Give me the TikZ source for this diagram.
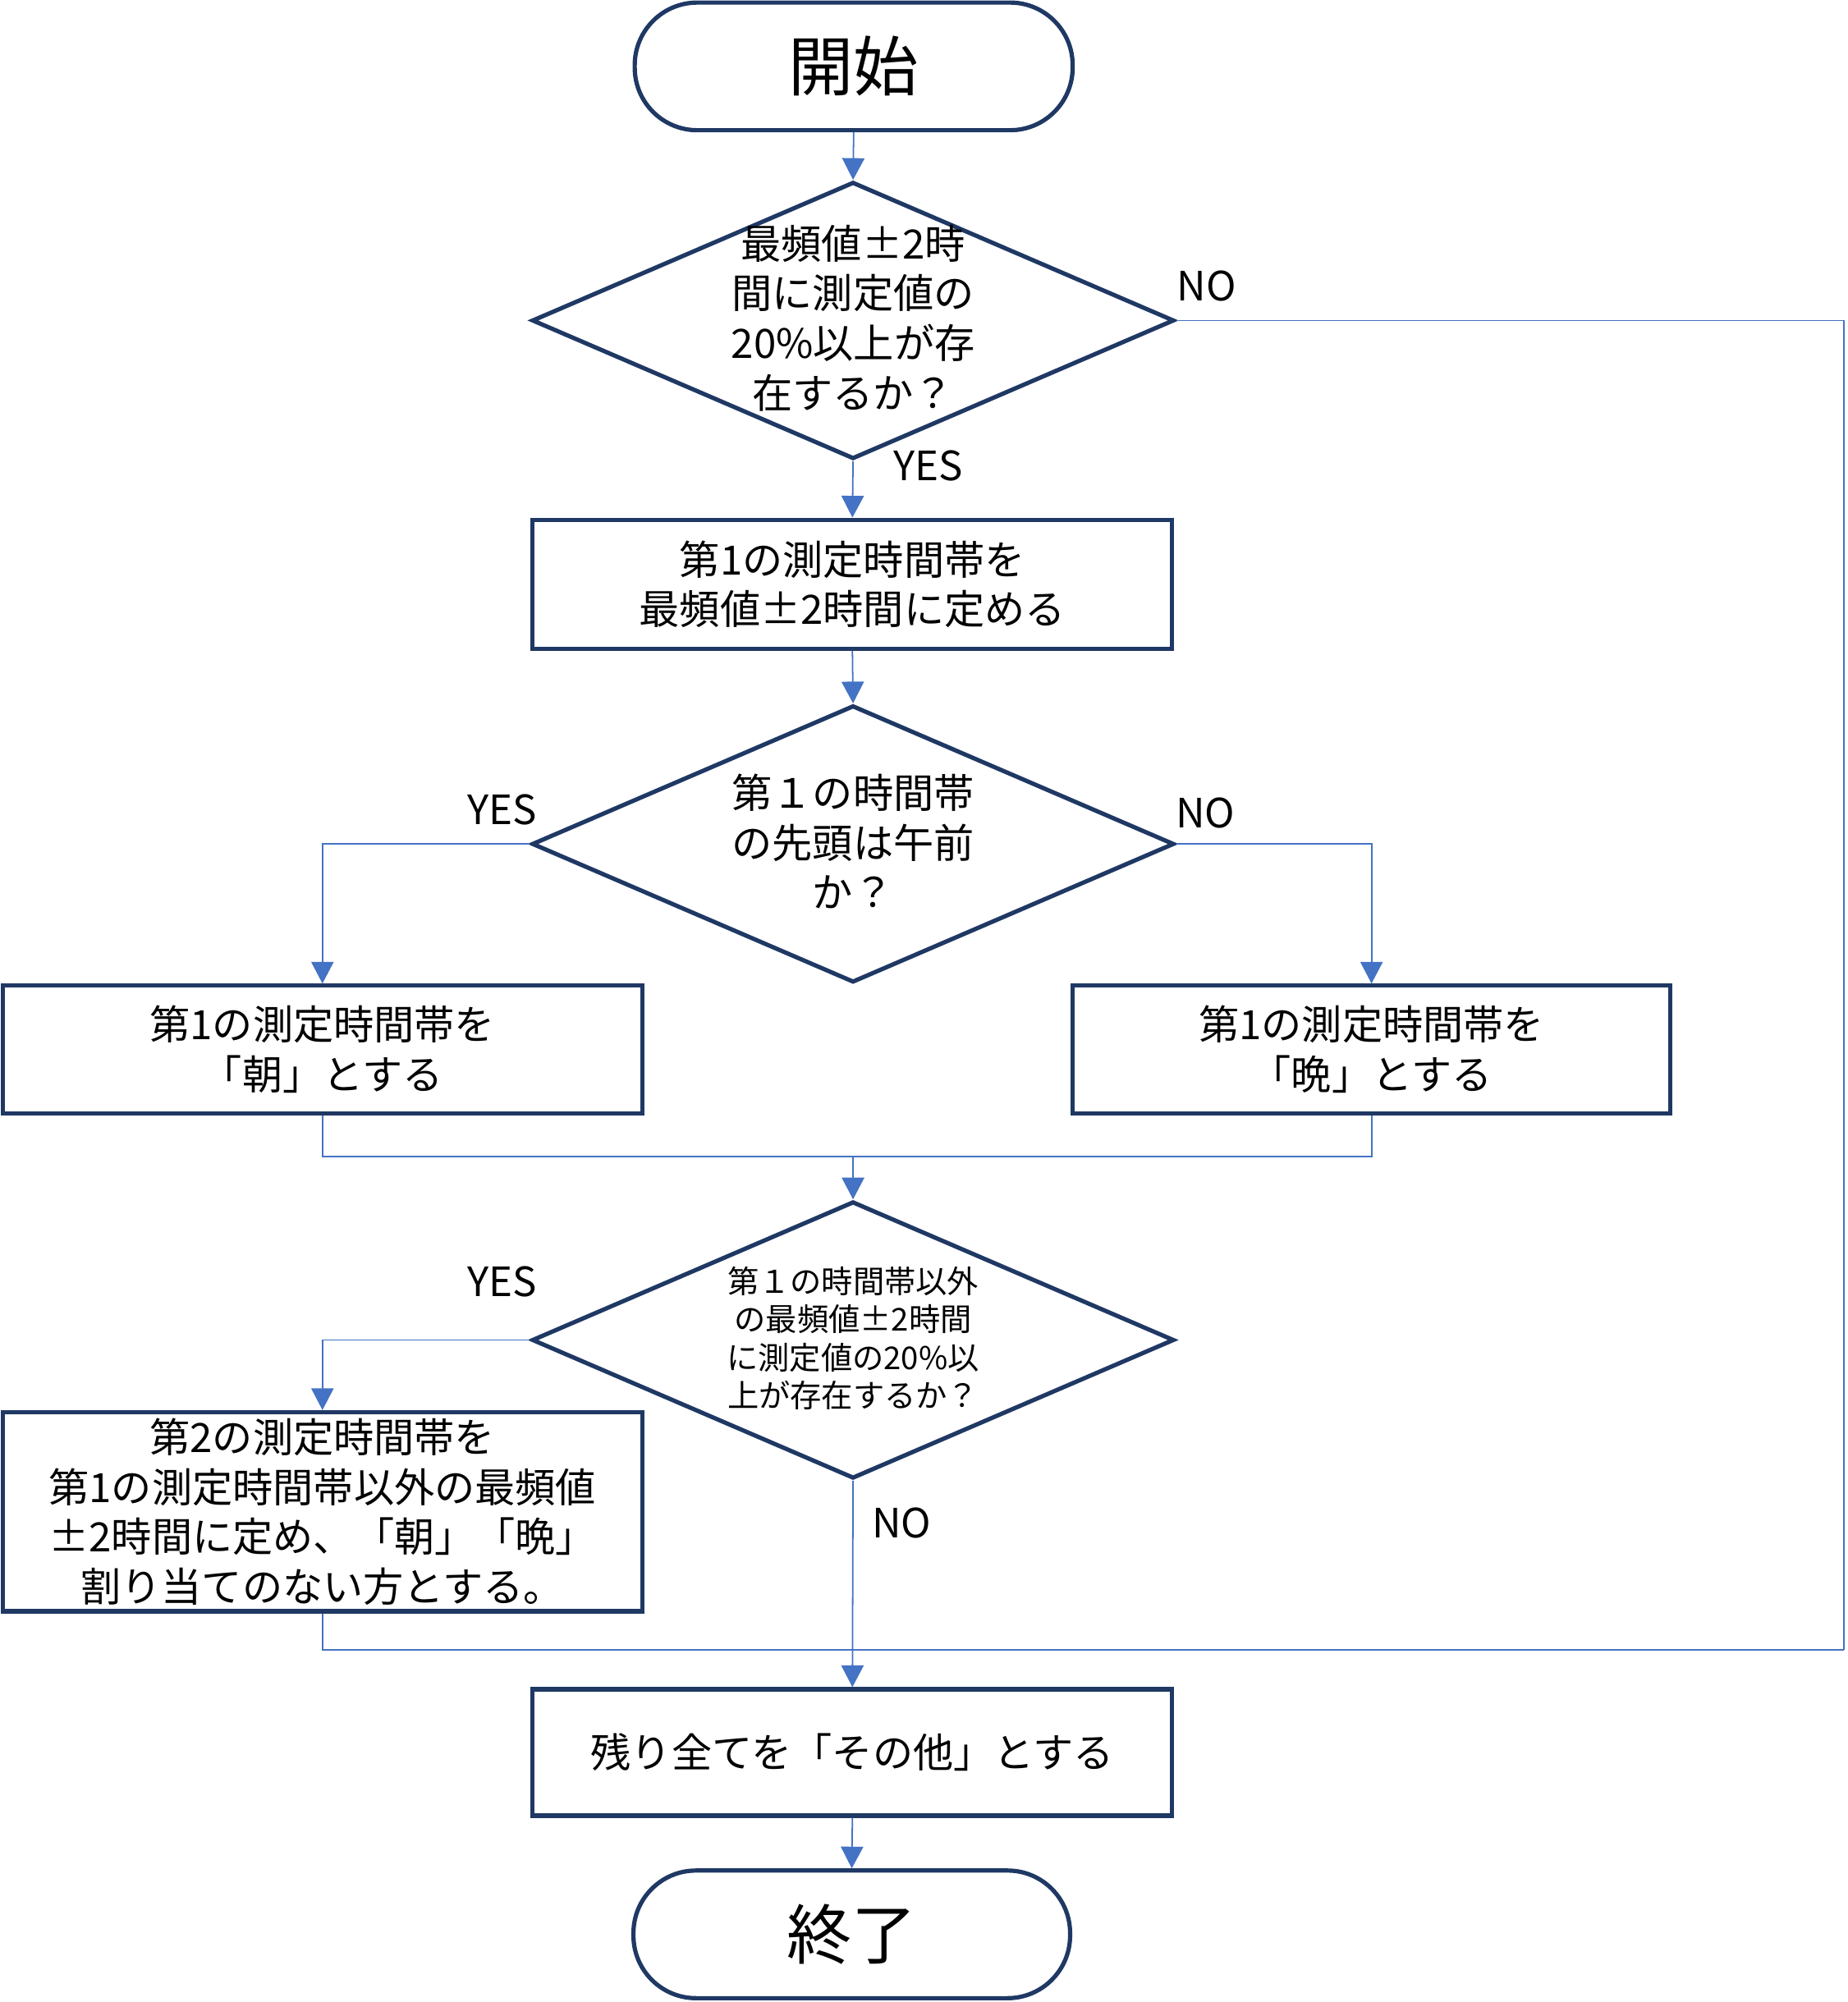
\documentclass[tikz,border=0pt]{standalone}
\usepackage{fontspec}
\setmainfont{Noto Sans CJK JP}
\usetikzlibrary{shapes.geometric,arrows.meta}
\definecolor{navyline}{HTML}{1F3864}
\definecolor{connblue}{HTML}{4472C4}
\newcommand\fsmain{\fontsize{18}{22.2}\selectfont}
\newcommand\fssmall{\fontsize{14}{17}\selectfont}
\newcommand\fsbig{\fontsize{29}{34}\selectfont}
\begin{document}
\begin{tikzpicture}[x=0.02cm,y=-0.02cm,
  boxst/.style={draw=navyline,line width=1.9pt,rectangle,inner sep=0pt,align=center,font=\fsmain},
  termst/.style={draw=navyline,line width=1.9pt,rectangle,rounded corners=0.98cm,inner sep=0pt,
     minimum width=6.86cm,minimum height=2cm,font=\fsbig},
  diast/.style={draw=navyline,line width=1.9pt,diamond,inner sep=0pt,
     minimum width=10.06cm,minimum height=4.34cm},
  txtst/.style={align=center,font=\fsmain,inner sep=0pt},
  conn/.style={draw=connblue,line width=0.65pt},
  arr/.style={conn,-{Triangle[length=0.34cm,width=0.35cm]}},
  lbl/.style={font=\fsmain,inner sep=0pt}]
\useasboundingbox (0,0) rectangle (1447,1568);

% nodes
\node[termst] (start) at (668.5,52) {開始};
\node[diast] (d1) at (668,251) {};
\node[txtst] (d1t) at (668,249) {最頻値±2時\\間に測定値の\\20\%以上が存\\在するか？};
\node[boxst,minimum width=10.02cm,minimum height=2.02cm] (b2) at (667.5,457.5)
  {第1の測定時間帯を\\最頻値±2時間に定める};
\node[diast] (d2) at (668,661) {};
\node[txtst] (d2t) at (668,659) {第１の時間帯\\の先頭は午前\\か？};
\node[boxst,minimum width=10.02cm,minimum height=2cm] (b3) at (252.5,822)
  {第1の測定時間帯を\\「朝」とする};
\node[boxst,minimum width=9.36cm,minimum height=2cm] (b4) at (1074,822)
  {第1の測定時間帯を\\「晩」とする};
\node[diast] (d3) at (668,1049.5) {};
\node[txtst,font=\fssmall] (d3t) at (668,1048)
  {第１の時間帯以外\\の最頻値±2時間\\に測定値の20\%以\\上が存在するか？};
\node[boxst,minimum width=10.02cm,minimum height=3.12cm] (b5) at (252.5,1184)
  {第2の測定時間帯を\\第1の測定時間帯以外の最頻値\\±2時間に定め、「朝」「晩」\\割り当てのない方とする。};
\node[boxst,minimum width=10.02cm,minimum height=1.98cm] (b6) at (667.5,1372.5)
  {残り全てを「その他」とする};
\node[termst,minimum width=6.84cm] (end) at (667,1515) {終了};

% labels
\node[lbl] (l1no) at (945,224) {NO};
\node[lbl] (l1yes) at (727,365) {YES};
\node[lbl] (l2yes) at (393,634) {YES};
\node[lbl] (l2no) at (944,637) {NO};
\node[lbl] (l3yes) at (393,1004) {YES};
\node[lbl] (l3no) at (706,1193) {NO};

% helper coordinates
\coordinate (rc) at (1444,1292);
\coordinate (jn) at (668,906);

% connectors
\draw[arr] (start.south) -- (d1.north);
\draw[arr] (d1.south) -- (b2.north);
\draw[arr] (b2.south) -- (d2.north);
\draw[arr] (d2.west) -| (b3.north);
\draw[arr] (d2.east) -| (b4.north);
\draw[conn] (b3.south) |- (jn);
\draw[conn] (b4.south) |- (jn);
\draw[arr] (jn) -- (d3.north);
\draw[arr] (d3.west) -| (b5.north);
\draw[arr] (d3.south) -- (b6.north);
\draw[conn] (d1.east) -| (rc);
\draw[conn] (b5.south) |- (rc);
\draw[arr] (b6.south) -- (end.north);
\end{tikzpicture}
\end{document}
